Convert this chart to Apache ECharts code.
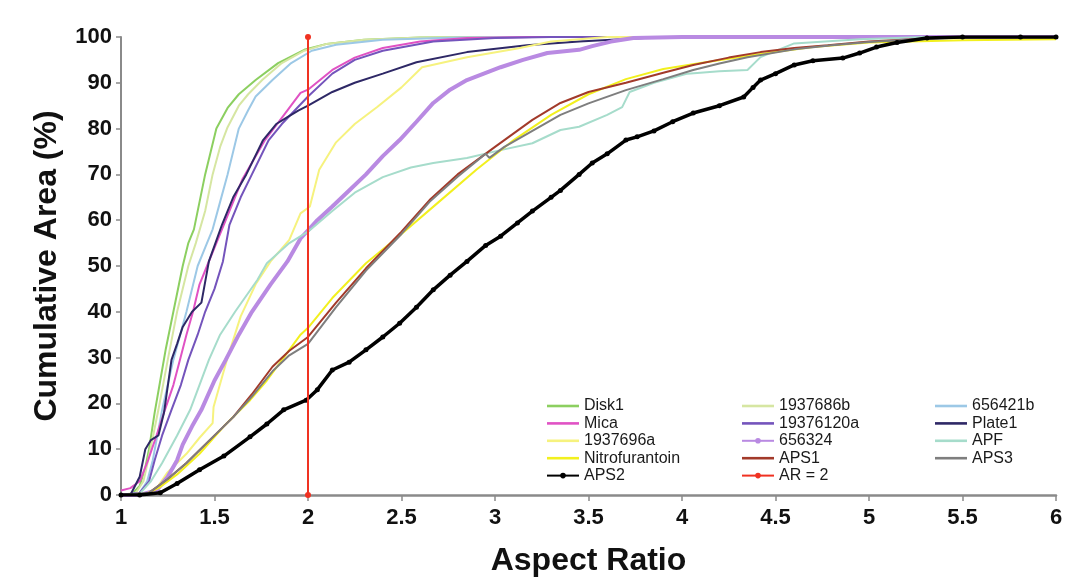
<!DOCTYPE html>
<html>
<head>
<meta charset="utf-8">
<script src="https://cdn.jsdelivr.net/npm/echarts@6/dist/echarts.min.js"></script>
<style>html,body{margin:0;padding:0;background:#fff;}#c{width:1068px;height:588px;}</style>
</head>
<body>
<div id="c"></div>
<script>
// Tick settings
const xTicks = [1, 1.5, 2, 2.5, 3, 3.5, 4, 4.5, 5, 5.5, 6];
const yTicks = [0, 10, 20, 30, 40, 50, 60, 70, 80, 90, 100];

// Series data: [aspect ratio, cumulative area %]
const disk1 = [[1,0],[1.06,0.3],[1.1,2],[1.13,6],[1.15,10],[1.18,18],[1.21,25],[1.24,32],[1.28,40],[1.31,46],[1.33,50],[1.36,55],[1.39,58],[1.42,64],[1.45,70],[1.48,75],[1.51,80],[1.57,84.5],[1.63,87.5],[1.72,90.6],[1.84,94.3],[1.98,97.2],[2.1,98.5],[2.3,99.4],[2.6,99.9],[3,100],[6,100]];
const s1937686b = [[1,0],[1.08,0.5],[1.12,3],[1.145,7.6],[1.2,18.6],[1.25,29.5],[1.3,40],[1.36,50],[1.4,55],[1.45,62],[1.49,70],[1.53,76],[1.57,80.3],[1.63,85],[1.68,87.5],[1.755,90.6],[1.86,94.3],[1.98,97],[2.1,98.5],[2.3,99.4],[2.6,99.9],[3,100],[6,100]];
const s656421b = [[1,0],[1.1,0.5],[1.14,3],[1.17,7.6],[1.22,18.6],[1.28,29.5],[1.35,40],[1.41,50],[1.45,54],[1.49,58],[1.53,64],[1.57,70],[1.63,80],[1.68,84],[1.72,87],[1.81,90.6],[1.91,94.3],[2.02,97],[2.15,98.3],[2.4,99.4],[2.8,99.9],[3.2,100],[6,100]];
const mica = [[1,1],[1.05,1.5],[1.1,3],[1.145,7.6],[1.19,13],[1.235,18.6],[1.28,24],[1.315,29.5],[1.35,35],[1.385,40],[1.42,46],[1.46,50],[1.51,55],[1.56,60],[1.65,69],[1.77,77.5],[1.89,84],[1.96,87.8],[2.0,88.5],[2.13,92.8],[2.25,95.5],[2.4,97.6],[2.6,99],[2.85,99.8],[3.2,100],[6,100]];
const s19376120a = [[1,0],[1.1,0.5],[1.15,3],[1.18,7.6],[1.22,13],[1.27,18.6],[1.32,24],[1.36,29.5],[1.41,35],[1.45,40],[1.5,45],[1.545,51],[1.58,59],[1.64,65],[1.7,70],[1.79,77.5],[1.86,81],[1.93,84],[2.0,87],[2.13,92],[2.25,95],[2.4,97],[2.67,99],[3,99.8],[3.3,100],[6,100]];
const plate1 = [[1,0],[1.05,0],[1.1,4],[1.13,10],[1.16,12],[1.2,13],[1.23,18],[1.27,29.5],[1.3,33],[1.33,36.7],[1.38,40],[1.43,42],[1.47,51],[1.54,59],[1.6,65],[1.67,70],[1.76,77.5],[1.83,81],[1.89,82.5],[1.95,84],[2.0,85],[2.13,88],[2.25,90],[2.4,92],[2.58,94.5],[2.85,96.7],[3.17,98.2],[3.45,99],[3.8,99.8],[4.2,100],[6,100]];
const s1937696a = [[1,0],[1.15,0.5],[1.2,2],[1.246,4.8],[1.35,9],[1.42,12.5],[1.49,15.7],[1.495,19.2],[1.57,30],[1.64,39],[1.72,46],[1.8,51],[1.9,55.7],[1.96,61.5],[2.01,63],[2.06,71],[2.15,77],[2.25,81],[2.37,84.7],[2.5,89],[2.61,93.4],[2.85,95.6],[3.12,97.5],[3.3,99],[3.6,100],[6,100]];
const s656324 = [[1,0],[1.1,0],[1.19,1],[1.25,4],[1.3,7.6],[1.33,11],[1.38,15],[1.43,18.6],[1.5,25],[1.56,29.5],[1.63,35],[1.7,40],[1.8,46],[1.89,51],[1.96,56],[2.05,60],[2.13,63],[2.22,66.5],[2.31,70],[2.4,74],[2.49,77.5],[2.58,81.5],[2.67,85.6],[2.76,88.5],[2.85,90.6],[2.94,92],[3.03,93.4],[3.15,95],[3.28,96.5],[3.45,97.2],[3.52,98],[3.62,99],[3.74,99.8],[4,100],[6,100]];
const apf = [[1,0],[1.1,0.3],[1.16,3],[1.22,7],[1.3,13],[1.37,18.6],[1.47,29.5],[1.53,35],[1.61,40],[1.73,47],[1.78,50.6],[1.9,55],[2.0,57.5],[2.13,62],[2.25,66],[2.4,69.4],[2.55,71.5],[2.67,72.5],[2.85,73.6],[3.03,75.3],[3.2,76.8],[3.35,79.7],[3.45,80.4],[3.6,83],[3.68,84.7],[3.72,88],[3.85,90],[4.03,92],[4.2,92.5],[4.35,92.8],[4.42,95.6],[4.6,98.6],[4.95,99.5],[5.3,100],[6,100]];
const nitrofurantoin = [[1,0],[1.12,0],[1.2,1.5],[1.3,4.5],[1.42,9],[1.55,15],[1.69,20.7],[1.78,25],[1.87,30],[1.96,35],[2.0,36.5],[2.13,43],[2.31,50.6],[2.5,57],[2.7,64],[2.9,71],[3.1,77.5],[3.3,83],[3.5,87.5],[3.7,90.8],[3.9,93],[4.1,94.3],[4.4,96.2],[4.7,97.8],[5.0,98.8],[5.5,99.3],[6,99.5]];
const aps1 = [[1,0],[1.1,0],[1.15,0.5],[1.25,3.5],[1.35,7],[1.45,11],[1.6,17],[1.7,22],[1.81,28],[1.9,31.5],[2.0,34.5],[2.15,42],[2.31,49.5],[2.5,57.5],[2.65,64.4],[2.8,70],[3.0,76],[3.2,81.9],[3.35,85.6],[3.5,88],[3.7,90],[3.9,92.2],[4.06,93.9],[4.25,95.5],[4.42,96.7],[4.6,97.6],[4.78,98.2],[5.0,99],[5.13,99.3],[5.49,100],[6,100]];
const aps3 = [[1,0],[1.15,0.5],[1.25,3.5],[1.35,7],[1.45,11],[1.6,17],[1.7,21.5],[1.81,27],[1.9,30.5],[2.0,33],[2.15,41],[2.31,49],[2.5,57],[2.65,64],[2.8,69.5],[2.95,74.5],[2.97,73.6],[3.05,76],[3.2,79.5],[3.35,83],[3.5,85.5],[3.7,88.4],[3.9,90.8],[4.06,92.8],[4.2,94.2],[4.35,95.6],[4.6,97.3],[4.8,98.2],[5.0,98.9],[5.3,99.6],[5.6,100],[6,100]];
const aps2 = [[1,0],[1.1,0],[1.21,0.5],[1.3,2.5],[1.42,5.5],[1.55,8.5],[1.69,12.7],[1.78,15.5],[1.87,18.6],[1.99,20.7],[2.05,23],[2.13,27.3],[2.22,29],[2.31,31.7],[2.4,34.5],[2.49,37.5],[2.58,41],[2.67,44.8],[2.76,48],[2.85,51],[2.95,54.5],[3.03,56.5],[3.12,59.4],[3.2,62],[3.3,65],[3.35,66.5],[3.45,70],[3.52,72.5],[3.6,74.5],[3.7,77.5],[3.76,78.2],[3.85,79.5],[3.95,81.5],[4.06,83.4],[4.2,85],[4.33,86.9],[4.38,89],[4.42,90.6],[4.5,92],[4.6,93.9],[4.7,94.8],[4.86,95.4],[4.95,96.5],[5.04,97.8],[5.15,98.8],[5.31,99.8],[5.5,100],[5.81,100],[6,100]];
const ar2 = [[2,0],[2,100]];

const names = ['Disk1','1937686b','656421b','Mica','19376120a','Plate1','1937696a','656324','APF','Nitrofurantoin','APS1','APS3','APS2','AR = 2'];
const datasets = [disk1, s1937686b, s656421b, mica, s19376120a, plate1, s1937696a, s656324, apf, nitrofurantoin, aps1, aps3, aps2, ar2];
const colors = ['#8ccf60','#d6e6a2','#9cc8e6','#e052c4','#7454bc','#2e2866','#f6f27e','#b98ae2','#a6dccb','#f2f01e','#a23a2a','#7e7e7e','#000000','#f03222'];
const widths = [2,2,2,2,2,2,2,4,2,2,2,2,3.5,2];
const marked = {'656324':4,'APS2':5,'AR = 2':6};

const series = names.map((n,i) => ({
  name: n,
  type: 'line',
  data: datasets[i],
  symbol: marked[n] ? 'circle' : 'none',
  symbolSize: marked[n] || 0,
  showSymbol: !!marked[n] && n !== '656324',
  color: colors[i],
  lineStyle: {width: widths[i], color: colors[i]},
  itemStyle: {color: colors[i]},
  animation: false,
  z: n === 'AR = 2' ? 5 : (n === 'APS2' ? 4 : 2)
}));

const lineIcon = 'path://M0,0L32,0L32,2.6L0,2.6Z';
const legendText = {fontFamily: 'Liberation Sans, Arial, sans-serif', fontSize: 16, color: '#1a1a1a', lineHeight: 16};
function leg(list, left) {
  return {
    data: list.map(n => marked[n] ? {name: n} : {name: n, icon: lineIcon}),
    left: left, top: 398, orient: 'vertical', itemWidth: 32, itemHeight: 7, itemGap: 1.4,
    symbolKeepAspect: true, textStyle: legendText, selectedMode: false, padding: 0
  };
}

const chart = echarts.init(document.getElementById('c'));
chart.setOption({
  backgroundColor: '#ffffff',
  animation: false,
  grid: {left: 121, right: 12, top: 37, bottom: 93},
  legend: [
    leg(['Disk1','Mica','1937696a','Nitrofurantoin','APS2'], 546),
    leg(['1937686b','19376120a','656324','APS1','AR = 2'], 741),
    leg(['656421b','Plate1','APF','APS3'], 935)
  ],
  xAxis: {
    type: 'value', min: xTicks[0], max: xTicks[xTicks.length-1], interval: 0.5,
    name: 'Aspect Ratio', nameLocation: 'middle', nameGap: 50,
    nameTextStyle: {fontFamily: 'Liberation Sans, Arial, sans-serif', fontWeight: 'bold', fontSize: 32, color: '#111'},
    axisLine: {show: true, lineStyle: {color: '#8a8a8a', width: 2.5}},
    axisTick: {show: true, length: 6, lineStyle: {color: '#8a8a8a', width: 1.5}},
    axisLabel: {fontFamily: 'Liberation Sans, Arial, sans-serif', fontWeight: 'bold', fontSize: 22, color: '#111', margin: 12},
    splitLine: {show: false}
  },
  yAxis: {
    type: 'value', min: yTicks[0], max: yTicks[yTicks.length-1], interval: 10,
    name: 'Cumulative Area (%)', nameLocation: 'middle', nameGap: 58,
    nameTextStyle: {fontFamily: 'Liberation Sans, Arial, sans-serif', fontWeight: 'bold', fontSize: 32, color: '#111'},
    axisLine: {show: true, lineStyle: {color: '#8a8a8a', width: 2}},
    axisTick: {show: true, length: 5, lineStyle: {color: '#8a8a8a', width: 1.5}},
    axisLabel: {fontFamily: 'Liberation Sans, Arial, sans-serif', fontWeight: 'bold', fontSize: 22, color: '#111', margin: 9},
    splitLine: {show: false}
  },
  series: series
});
</script>
</body>
</html>
